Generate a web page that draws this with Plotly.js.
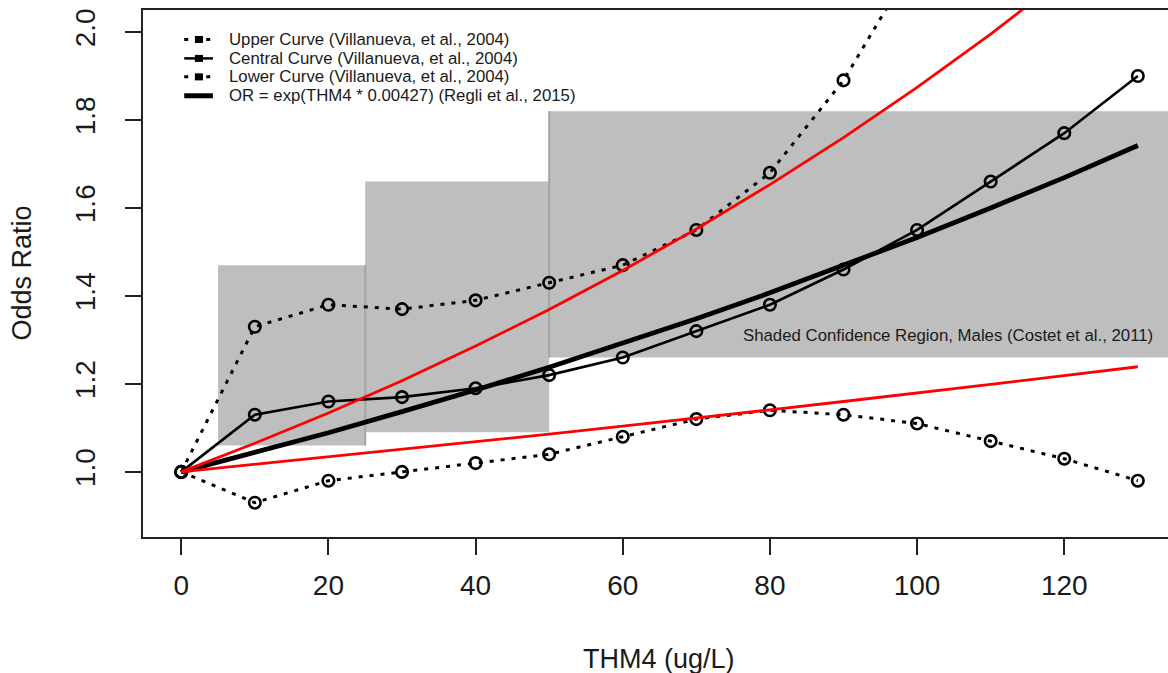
<!DOCTYPE html>
<html>
<head>
<meta charset="utf-8">
<script src="https://cdn.plot.ly/plotly-3.0.1.min.js"></script>
<style>html,body{margin:0;padding:0;background:#fff;}#chart{width:1168px;height:673px;}</style>
</head>
<body>
<div id="chart"></div>
<script>
// ---- data ----
const thm = [0, 10, 20, 30, 40, 50, 60, 70, 80, 90, 100, 110, 120, 130];
const upperOR   = [1.00, 1.33, 1.38, 1.37, 1.39, 1.43, 1.47, 1.55, 1.68, 1.89, 2.17];
const centralOR = [1.00, 1.13, 1.16, 1.17, 1.19, 1.22, 1.26, 1.32, 1.38, 1.46, 1.55, 1.66, 1.77, 1.90];
const lowerOR   = [1.00, 0.93, 0.98, 1.00, 1.02, 1.04, 1.08, 1.12, 1.14, 1.13, 1.11, 1.07, 1.03, 0.98];
const regliOR   = [1.000, 1.044, 1.089, 1.137, 1.186, 1.238, 1.292, 1.348, 1.407, 1.469, 1.533, 1.600, 1.669, 1.742];
const regliHigh = [1.000, 1.065, 1.134, 1.207, 1.286, 1.369, 1.458, 1.552, 1.653, 1.760, 1.874, 1.995, 2.125, 2.262];
const regliLow  = [1.000, 1.017, 1.034, 1.051, 1.068, 1.086, 1.104, 1.122, 1.141, 1.160, 1.179, 1.199, 1.219, 1.239];

// shaded confidence boxes (Costet et al., 2011)
const boxX0 = [5, 25, 50];
const boxX1 = [25, 50, 140];
const boxY0 = [1.06, 1.09, 1.26];
const boxY1 = [1.47, 1.66, 1.82];

const xTicks = [0, 20, 40, 60, 80, 100, 120];
const yTicks = [1.0, 1.2, 1.4, 1.6, 1.8, 2.0];
const yTickText = ['1.0', '1.2', '1.4', '1.6', '1.8', '2.0'];

const legendLabels = [
  'Upper Curve (Villanueva, et al., 2004)',
  'Central Curve (Villanueva, et al., 2004)',
  'Lower Curve (Villanueva, et al., 2004)',
  'OR = exp(THM4 * 0.00427) (Regli et al., 2015)'
];
const shadeLabel = 'Shaded Confidence Region, Males (Costet et al., 2011)';

// ---- styling ----
const FONT = 'Liberation Sans, Arial, sans-serif';
const TXT = '#1a1a1a';
const dotDash = '4px,7px';
const marker = {symbol: 'circle-open', size: 11.5, color: '#000', line: {width: 2.6, color: '#000'}};

const traces = [
  {x: thm.slice(0, upperOR.length), y: upperOR, mode: 'lines+markers',
   line: {color: '#000', width: 3, dash: dotDash}, marker: marker, name: legendLabels[0]},
  {x: thm, y: centralOR, mode: 'lines+markers',
   line: {color: '#000', width: 2.6}, marker: marker, name: legendLabels[1]},
  {x: thm, y: lowerOR, mode: 'lines+markers',
   line: {color: '#000', width: 3, dash: dotDash}, marker: marker, name: legendLabels[2]},
  {x: thm, y: regliOR, mode: 'lines', line: {color: '#000', width: 4.8}, name: legendLabels[3]},
  {x: thm, y: regliHigh, mode: 'lines', line: {color: '#ff0000', width: 2.8}, name: 'upper CI'},
  {x: thm, y: regliLow, mode: 'lines', line: {color: '#ff0000', width: 2.8}, name: 'lower CI'}
];

const shapes = [];
for (let i = 0; i < boxX0.length; i++) {
  shapes.push({type: 'rect', xref: 'x', yref: 'y', layer: 'below',
    x0: boxX0[i], x1: boxX1[i], y0: boxY0[i], y1: boxY1[i],
    fillcolor: '#bebebe', line: {width: 0}});
}
// darker seams where the boxes meet
shapes.push({type: 'line', xref: 'x', yref: 'y', layer: 'below', x0: boxX1[0], x1: boxX1[0], y0: boxY0[0], y1: boxY1[0], line: {color: '#a4a4a4', width: 2}});
shapes.push({type: 'line', xref: 'x', yref: 'y', layer: 'below', x0: boxX0[2], x1: boxX0[2], y0: boxY0[2], y1: boxY1[2], line: {color: '#a4a4a4', width: 2}});

// legend (R style, drawn in plot coordinates at top-left)
const legRowsY = [1.983, 1.940, 1.898, 1.855];
const legX0 = 0.4, legX1 = 4.3, legMid = 2.4, legText = 6.2;
const legDash = [dotDash, 'solid', dotDash, 'solid'];
const legW = [3, 2.5, 3, 5];
for (let i = 0; i < 4; i++) {
  shapes.push({type: 'line', xref: 'x', yref: 'y', x0: legX0, x1: legX1, y0: legRowsY[i], y1: legRowsY[i],
    line: {color: '#000', width: legW[i], dash: legDash[i]}});
  if (i < 3) {
    shapes.push({type: 'rect', xref: 'x', yref: 'y', x0: legMid - 0.55, x1: legMid + 0.55,
      y0: legRowsY[i] - 0.008, y1: legRowsY[i] + 0.008, fillcolor: '#000', line: {width: 0}});
  }
}

const annotations = legendLabels.map((t, i) => ({
  xref: 'x', yref: 'y', x: legText, y: legRowsY[i], text: t, showarrow: false,
  xanchor: 'left', yanchor: 'middle', font: {family: FONT, size: 16.8, color: TXT}
}));
annotations.push({xref: 'x', yref: 'y', x: 132.3, y: 1.309, text: shadeLabel, showarrow: false,
  xanchor: 'right', yanchor: 'middle', font: {family: FONT, size: 16.8, color: TXT}});
annotations.push({xref: 'paper', yref: 'paper', x: 0.5034, y: -0.2315, text: 'THM4 (ug/L)', showarrow: false,
  xanchor: 'center', yanchor: 'middle', font: {family: FONT, size: 27, color: TXT}});
annotations.push({xref: 'paper', yref: 'paper', x: -0.119, y: 0.5, text: 'Odds Ratio', showarrow: false, textangle: -90,
  xanchor: 'center', yanchor: 'middle', font: {family: FONT, size: 27, color: TXT}});

const layout = {
  width: 1168, height: 673,
  margin: {l: 143, r: 0, t: 10, b: 136},
  paper_bgcolor: '#fff', plot_bgcolor: '#fff',
  showlegend: false,
  xaxis: {range: [-5.2, 134.1], tickvals: xTicks, ticks: 'outside', ticklen: 16, tickwidth: 2, tickcolor: '#222',
    showline: true, linewidth: 2, linecolor: '#222', mirror: true, showgrid: false, zeroline: false,
    ticklabelstandoff: 6, tickfont: {family: FONT, size: 28, color: TXT}},
  yaxis: {range: [0.852, 2.05], tickvals: yTicks, ticktext: yTickText, ticks: 'outside', ticklen: 16, tickwidth: 2, tickcolor: '#222',
    showline: true, linewidth: 2, linecolor: '#222', mirror: false, showgrid: false, zeroline: false,
    tickangle: -90, ticklabelstandoff: 19, tickfont: {family: FONT, size: 28, color: TXT}},
  shapes: shapes,
  annotations: annotations
};

Plotly.newPlot('chart', traces, layout, {displayModeBar: false, staticPlot: true});
</script>
</body>
</html>
